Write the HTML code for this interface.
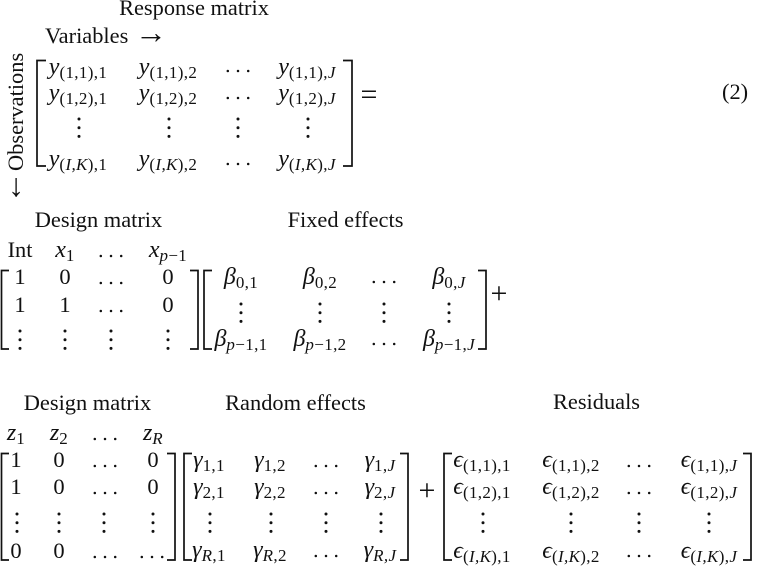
<!DOCTYPE html>
<html><head><meta charset="utf-8">
<style>
html,body{margin:0;padding:0;background:#fff;width:776px;height:569px;overflow:hidden}
svg{display:block;filter:blur(0.3px)}
text{font-family:"Liberation Serif","DejaVu Serif",serif;fill:#111;font-size:22.5px}
.m{text-anchor:middle}
.t{font-size:22.4px}
.i{font-style:italic;font-size:24px}
.s{font-size:17px;letter-spacing:.35px}
.s .i,.s.i{font-size:17px}
.b{fill:none;stroke:#111;stroke-width:1.7}
.o{font-size:30px}
.a{font-size:32px}
</style></head><body>
<svg width="776" height="569" viewBox="0 0 776 569" xmlns="http://www.w3.org/2000/svg">
<defs>
<g id="vd"><circle cx="0" cy="0" r="1.5" fill="#111"/><circle cx="0" cy="8.7" r="1.5" fill="#111"/><circle cx="0" cy="17.4" r="1.5" fill="#111"/></g>
<g id="hd"><circle cx="-10.2" cy="0" r="1.25" fill="#111"/><circle cx="0" cy="0" r="1.25" fill="#111"/><circle cx="10.2" cy="0" r="1.25" fill="#111"/></g>
</defs>

<!-- Response -->
<text class="m t" x="194" y="15">Response matrix</text>
<text class="t" x="45" y="43">Variables</text>
<text class="a" x="135" y="43">→</text>
<text class="t" transform="translate(23,171) rotate(-90)">Observations</text>
<text class="m a" x="16" y="196">↓</text>
<path class="b" d="M46 60.5H37V166H46"/><path class="b" d="M343 60.5H352V166H343"/>
<text class="m" x="78" y="74"><tspan class="i">y</tspan><tspan class="s" dy="4">(1,1),1</tspan></text>
<text class="m" x="168" y="74"><tspan class="i">y</tspan><tspan class="s" dy="4">(1,1),2</tspan></text>
<use href="#hd" x="238" y="71"/>
<text class="m" x="307" y="74"><tspan class="i">y</tspan><tspan class="s" dy="4">(1,1),<tspan class="i">J</tspan></tspan></text>
<text class="m" x="78" y="100"><tspan class="i">y</tspan><tspan class="s" dy="4">(1,2),1</tspan></text>
<text class="m" x="168" y="100"><tspan class="i">y</tspan><tspan class="s" dy="4">(1,2),2</tspan></text>
<use href="#hd" x="238" y="98"/>
<text class="m" x="307" y="100"><tspan class="i">y</tspan><tspan class="s" dy="4">(1,2),<tspan class="i">J</tspan></tspan></text>
<use href="#vd" x="79" y="119"/><use href="#vd" x="169" y="119"/><use href="#vd" x="238" y="119"/><use href="#vd" x="308" y="119"/>
<text class="m" x="78" y="166"><tspan class="i">y</tspan><tspan class="s" dy="4">(<tspan class="i">I,K</tspan>),1</tspan></text>
<text class="m" x="168" y="166"><tspan class="i">y</tspan><tspan class="s" dy="4">(<tspan class="i">I,K</tspan>),2</tspan></text>
<use href="#hd" x="238" y="164"/>
<text class="m" x="307" y="166"><tspan class="i">y</tspan><tspan class="s" dy="4">(<tspan class="i">I,K</tspan>),<tspan class="i">J</tspan></tspan></text>
<text class="m o" x="369" y="104">=</text>
<text class="t" x="722" y="99">(2)</text>

<!-- Design 1 / Fixed -->
<text class="m t" x="98.5" y="227">Design matrix</text>
<text class="m t" x="345.5" y="227">Fixed effects</text>
<text class="m t" x="20" y="257">Int</text>
<text class="m" x="65" y="257"><tspan class="i">x</tspan><tspan class="s" dy="4">1</tspan></text>
<use href="#hd" x="111" y="256"/>
<text class="m" x="168" y="257"><tspan class="i">x</tspan><tspan class="s i" dy="4">p</tspan><tspan class="s">−1</tspan></text>
<path class="b" d="M9 270.5H1.5V349H9"/><path class="b" d="M190 270.5H198V349H190"/>
<text class="m" x="20" y="284">1</text><text class="m" x="65" y="284">0</text><use href="#hd" x="111" y="283"/><text class="m" x="168" y="284">0</text>
<text class="m" x="20" y="312">1</text><text class="m" x="65" y="312">1</text><use href="#hd" x="111" y="311"/><text class="m" x="168" y="312">0</text>
<use href="#vd" x="20" y="331"/><use href="#vd" x="65" y="331"/><use href="#vd" x="111" y="331"/><use href="#vd" x="168" y="331"/>

<path class="b" d="M212 270.5H204V349H212"/><path class="b" d="M478 270.5H486V349H478"/>
<text class="m" x="241" y="284"><tspan class="i">β</tspan><tspan class="s" dy="4">0,1</tspan></text>
<text class="m" x="320" y="284"><tspan class="i">β</tspan><tspan class="s" dy="4">0,2</tspan></text>
<use href="#hd" x="384" y="282"/>
<text class="m" x="449" y="284"><tspan class="i">β</tspan><tspan class="s" dy="4">0,<tspan class="i">J</tspan></tspan></text>
<use href="#vd" x="241" y="304"/><use href="#vd" x="320" y="304"/><use href="#vd" x="384" y="304"/><use href="#vd" x="449" y="304"/>
<text class="m" x="241" y="346"><tspan class="i">β</tspan><tspan class="s i" dy="4">p</tspan><tspan class="s">−1,1</tspan></text>
<text class="m" x="320" y="346"><tspan class="i">β</tspan><tspan class="s i" dy="4">p</tspan><tspan class="s">−1,2</tspan></text>
<use href="#hd" x="384" y="344"/>
<text class="m" x="449" y="346"><tspan class="i">β</tspan><tspan class="s i" dy="4">p</tspan><tspan class="s">−1,<tspan class="i">J</tspan></tspan></text>
<text class="m o" x="499" y="303">+</text>

<!-- Design 2 / Random / Residuals -->
<text class="m t" x="87.5" y="410">Design matrix</text>
<text class="m t" x="295.5" y="410">Random effects</text>
<text class="m t" x="596.5" y="409">Residuals</text>
<text class="m" x="16" y="440"><tspan class="i">z</tspan><tspan class="s" dy="4">1</tspan></text>
<text class="m" x="59" y="440"><tspan class="i">z</tspan><tspan class="s" dy="4">2</tspan></text>
<use href="#hd" x="105" y="439"/>
<text class="m" x="153" y="440"><tspan class="i">z</tspan><tspan class="s i" dy="4">R</tspan></text>
<path class="b" d="M9 453.5H1.5V560H9"/><path class="b" d="M167 453.5H175V560H167"/>
<text class="m" x="16" y="467">1</text><text class="m" x="59" y="467">0</text><use href="#hd" x="105" y="466"/><text class="m" x="153" y="467">0</text>
<text class="m" x="16" y="494">1</text><text class="m" x="59" y="494">0</text><use href="#hd" x="105" y="493"/><text class="m" x="153" y="494">0</text>
<use href="#vd" x="17" y="514"/><use href="#vd" x="59" y="514"/><use href="#vd" x="104" y="514"/><use href="#vd" x="153" y="514"/>
<text class="m" x="16" y="558">0</text><text class="m" x="59" y="558">0</text><use href="#hd" x="105" y="557"/><use href="#hd" x="152" y="557"/>

<path class="b" d="M192 453.5H184V560H192"/><path class="b" d="M400 453.5H408V560H400"/>
<text class="m" x="209" y="467"><tspan class="i">γ</tspan><tspan class="s" dy="4">1,1</tspan></text>
<text class="m" x="270" y="467"><tspan class="i">γ</tspan><tspan class="s" dy="4">1,2</tspan></text>
<use href="#hd" x="326" y="466"/>
<text class="m" x="380" y="467"><tspan class="i">γ</tspan><tspan class="s" dy="4">1,<tspan class="i">J</tspan></tspan></text>
<text class="m" x="209" y="494"><tspan class="i">γ</tspan><tspan class="s" dy="4">2,1</tspan></text>
<text class="m" x="270" y="494"><tspan class="i">γ</tspan><tspan class="s" dy="4">2,2</tspan></text>
<use href="#hd" x="326" y="493"/>
<text class="m" x="380" y="494"><tspan class="i">γ</tspan><tspan class="s" dy="4">2,<tspan class="i">J</tspan></tspan></text>
<use href="#vd" x="210" y="514"/><use href="#vd" x="271" y="514"/><use href="#vd" x="326" y="514"/><use href="#vd" x="381" y="514"/>
<text class="m" x="209" y="557"><tspan class="i">γ</tspan><tspan class="s i" dy="4">R</tspan><tspan class="s">,1</tspan></text>
<text class="m" x="270" y="557"><tspan class="i">γ</tspan><tspan class="s i" dy="4">R</tspan><tspan class="s">,2</tspan></text>
<use href="#hd" x="326" y="556"/>
<text class="m" x="380" y="557"><tspan class="i">γ</tspan><tspan class="s i" dy="4">R,J</tspan></text>
<text class="m o" x="427" y="500">+</text>

<path class="b" d="M452 453.5H444V560H452"/><path class="b" d="M743 453.5H751V560H743"/>
<text class="m" x="482" y="467"><tspan class="i">ϵ</tspan><tspan class="s" dy="4">(1,1),1</tspan></text>
<text class="m" x="571" y="467"><tspan class="i">ϵ</tspan><tspan class="s" dy="4">(1,1),2</tspan></text>
<use href="#hd" x="639" y="466"/>
<text class="m" x="709" y="467"><tspan class="i">ϵ</tspan><tspan class="s" dy="4">(1,1),<tspan class="i">J</tspan></tspan></text>
<text class="m" x="482" y="494"><tspan class="i">ϵ</tspan><tspan class="s" dy="4">(1,2),1</tspan></text>
<text class="m" x="571" y="494"><tspan class="i">ϵ</tspan><tspan class="s" dy="4">(1,2),2</tspan></text>
<use href="#hd" x="639" y="493"/>
<text class="m" x="709" y="494"><tspan class="i">ϵ</tspan><tspan class="s" dy="4">(1,2),<tspan class="i">J</tspan></tspan></text>
<use href="#vd" x="483" y="514"/><use href="#vd" x="571" y="514"/><use href="#vd" x="639" y="514"/><use href="#vd" x="709" y="514"/>
<text class="m" x="482" y="558"><tspan class="i">ϵ</tspan><tspan class="s" dy="4">(<tspan class="i">I,K</tspan>),1</tspan></text>
<text class="m" x="571" y="558"><tspan class="i">ϵ</tspan><tspan class="s" dy="4">(<tspan class="i">I,K</tspan>),2</tspan></text>
<use href="#hd" x="639" y="556"/>
<text class="m" x="709" y="558"><tspan class="i">ϵ</tspan><tspan class="s" dy="4">(<tspan class="i">I,K</tspan>),<tspan class="i">J</tspan></tspan></text>
</svg>
</body></html>
